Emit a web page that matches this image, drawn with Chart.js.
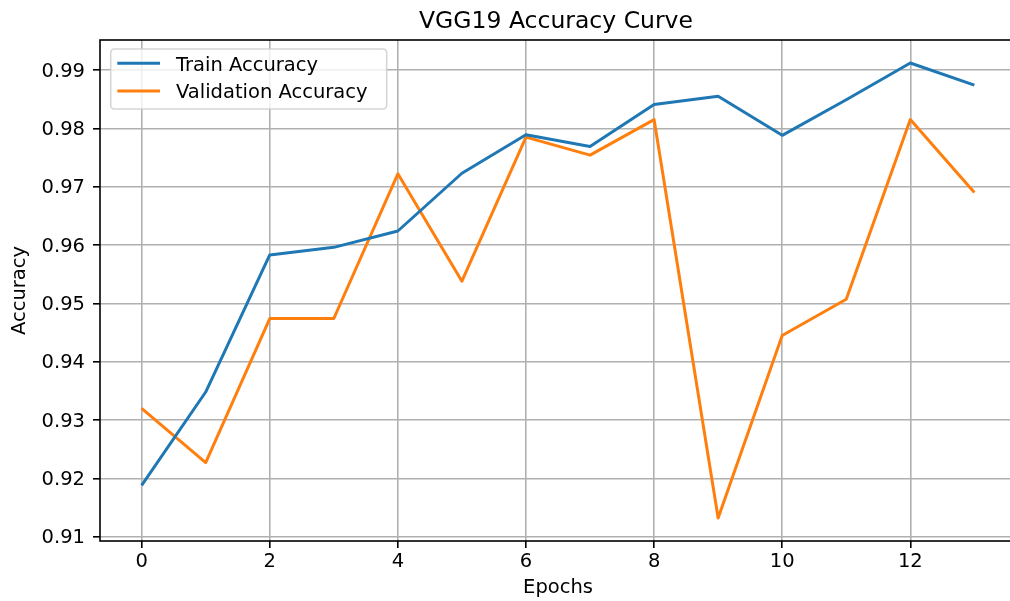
<!DOCTYPE html>
<html>
<head>
<meta charset="utf-8">
<script src="https://cdn.jsdelivr.net/npm/chart.js@4/dist/chart.umd.min.js"></script>
<style>
html,body{margin:0;padding:0;background:#ffffff;overflow:hidden;width:1010px;height:601px}
canvas{display:block}
</style>
</head>
<body>
<canvas id="c" width="1030" height="601"></canvas>
<script>
const epochs = [0, 1, 2, 3, 4, 5, 6, 7, 8, 9, 10, 11, 12, 13];
const trainAccuracy = [0.9188, 0.9348, 0.9583, 0.9596, 0.9624, 0.9723, 0.9789, 0.9769, 0.9841, 0.9855, 0.9788, 0.9849, 0.9912, 0.9874];
const valAccuracy = [0.9320, 0.9227, 0.9474, 0.9474, 0.9722, 0.9538, 0.9785, 0.9754, 0.9815, 0.9132, 0.9445, 0.9507, 0.9815, 0.9690];
const xTickValues = [0, 2, 4, 6, 8, 10, 12];
const yTickValues = [0.91, 0.92, 0.93, 0.94, 0.95, 0.96, 0.97, 0.98, 0.99];
const chartTitle = 'VGG19 Accuracy Curve';
const xAxisTitle = 'Epochs';
const yAxisTitle = 'Accuracy';
const seriesLabels = ['Train Accuracy', 'Validation Accuracy'];
const seriesColors = ['#1f77b4', '#ff7f0e'];

const FONT = "'DejaVu Sans', 'Liberation Sans', sans-serif";
const TXT = '#000000';

function toPoints(values) {
  return epochs.map((e, i) => ({ x: e, y: values[i] }));
}

const framePlugin = {
  id: 'frame',
  afterDatasetsDraw(chart) {
    const { ctx, chartArea: a } = chart;
    ctx.save();
    ctx.strokeStyle = '#000000';
    ctx.lineWidth = 1.6;
    ctx.strokeRect(a.left, a.top, a.right - a.left, a.bottom - a.top);
    ctx.restore();
  }
};

const titlePlugin = {
  id: 'mplTitle',
  afterDraw(chart) {
    const { ctx, chartArea: a } = chart;
    ctx.save();
    ctx.font = '23.5px ' + FONT;
    ctx.fillStyle = TXT;
    ctx.textAlign = 'center';
    ctx.textBaseline = 'alphabetic';
    ctx.fillText(chartTitle, (a.left + a.right) / 2 - 2, 28.3);
    ctx.restore();
  }
};

const legendPlugin = {
  id: 'mplLegend',
  afterDraw(chart) {
    const { ctx } = chart;
    const bx = 110.7, by = 49, bw = 276, bh = 60, r = 4;
    ctx.save();
    ctx.beginPath();
    ctx.moveTo(bx + r, by);
    ctx.lineTo(bx + bw - r, by);
    ctx.quadraticCurveTo(bx + bw, by, bx + bw, by + r);
    ctx.lineTo(bx + bw, by + bh - r);
    ctx.quadraticCurveTo(bx + bw, by + bh, bx + bw - r, by + bh);
    ctx.lineTo(bx + r, by + bh);
    ctx.quadraticCurveTo(bx, by + bh, bx, by + bh - r);
    ctx.lineTo(bx, by + r);
    ctx.quadraticCurveTo(bx, by, bx + r, by);
    ctx.closePath();
    ctx.fillStyle = 'rgba(255,255,255,0.8)';
    ctx.fill();
    ctx.strokeStyle = 'rgba(204,204,204,0.8)';
    ctx.lineWidth = 1.6;
    ctx.stroke();
    const rows = [63.3, 91];
    const baselines = [70.7, 98.4];
    seriesLabels.forEach((lab, i) => {
      ctx.beginPath();
      ctx.moveTo(117.3, rows[i]);
      ctx.lineTo(160, rows[i]);
      ctx.strokeStyle = seriesColors[i];
      ctx.lineWidth = 3;
      ctx.lineCap = 'butt';
      ctx.stroke();
      ctx.font = '19.5px ' + FONT;
      ctx.fillStyle = TXT;
      ctx.textAlign = 'left';
      ctx.textBaseline = 'alphabetic';
      ctx.fillText(lab, 176, baselines[i]);
    });
    ctx.restore();
  }
};

new Chart(document.getElementById('c'), {
  type: 'line',
  data: {
    datasets: [
      {
        label: seriesLabels[0],
        data: toPoints(trainAccuracy),
        borderColor: seriesColors[0],
        backgroundColor: seriesColors[0],
        borderWidth: 3,
        pointRadius: 0,
        tension: 0,
        fill: false,
        borderJoinStyle: 'round',
        borderCapStyle: 'butt'
      },
      {
        label: seriesLabels[1],
        data: toPoints(valAccuracy),
        borderColor: seriesColors[1],
        backgroundColor: seriesColors[1],
        borderWidth: 3,
        pointRadius: 0,
        tension: 0,
        fill: false,
        borderJoinStyle: 'round',
        borderCapStyle: 'butt'
      }
    ]
  },
  options: {
    responsive: false,
    animation: false,
    devicePixelRatio: 1,
    layout: { padding: { left: 0, top: 40, right: 14, bottom: 0 } },
    plugins: {
      legend: { display: false },
      title: { display: false },
      tooltip: { enabled: false }
    },
    scales: {
      x: {
        type: 'linear',
        min: -0.65,
        max: 13.65,
        afterFit(scale) { scale.height = 60; },
        afterBuildTicks(scale) { scale.ticks = xTickValues.map(v => ({ value: v })); },
        border: { display: false },
        grid: {
          color: '#b0b0b0',
          lineWidth: 1.6,
          drawTicks: true,
          tickLength: 7,
          tickColor: '#000000',
          tickWidth: 1.6
        },
        ticks: {
          color: TXT,
          padding: 2,
          maxRotation: 0,
          autoSkip: false,
          font: { family: FONT, size: 19.5 },
          callback: v => String(v)
        },
        title: {
          display: true,
          text: xAxisTitle,
          color: TXT,
          font: { family: FONT, size: 19.5 },
          padding: { top: 0, bottom: 1.8 }
        }
      },
      y: {
        type: 'linear',
        min: 0.909263,
        max: 0.995142,
        afterFit(scale) { scale.width = 100; },
        afterBuildTicks(scale) { scale.ticks = yTickValues.map(v => ({ value: v })); },
        border: { display: false },
        grid: {
          color: '#b0b0b0',
          lineWidth: 1.6,
          drawTicks: true,
          tickLength: 7,
          tickColor: '#000000',
          tickWidth: 1.6
        },
        ticks: {
          color: TXT,
          padding: 8,
          labelOffset: 1.5,
          autoSkip: false,
          font: { family: FONT, size: 19.5 },
          callback: v => Number(v).toFixed(2)
        },
        title: {
          display: true,
          text: yAxisTitle,
          color: TXT,
          font: { family: FONT, size: 19.5 },
          padding: { top: 8.5, bottom: 0 }
        }
      }
    }
  },
  plugins: [framePlugin, titlePlugin, legendPlugin]
});
</script>
</body>
</html>
